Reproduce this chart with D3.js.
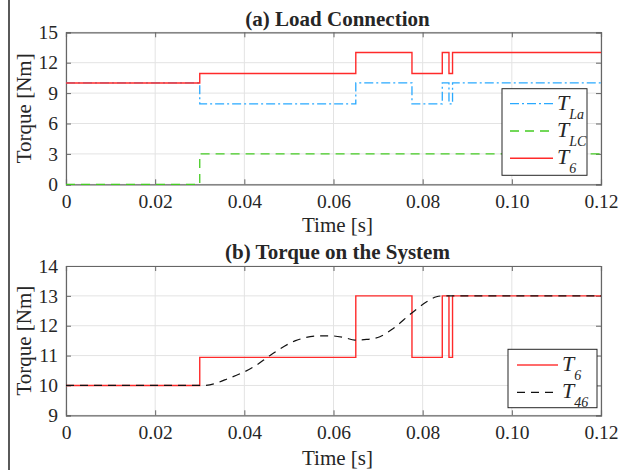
<!DOCTYPE html>
<html><head><meta charset="utf-8">
<script src="https://cdn.jsdelivr.net/npm/d3@7"></script>
<style>
body{margin:0;background:#fff;}
svg{display:block;}
text{font-family:"Liberation Serif","Times New Roman",serif;fill:#262626;}
</style></head>
<body>
<svg id="c" width="644" height="470"></svg>
<script>
// ---------- data ----------
const xTicks = [0, 0.02, 0.04, 0.06, 0.08, 0.10, 0.12];
const xTickLabels = ["0", "0.02", "0.04", "0.06", "0.08", "0.10", "0.12"];
const yTicksA = [0, 3, 6, 9, 12, 15];
const yTicksB = [9, 10, 11, 12, 13, 14];

// step series (value holds from time[i] until time[i+1])
const stepTimes = [0, 0.03, 0.065, 0.0776, 0.0844, 0.0859, 0.0867, 0.12];
const T6  = [10, 10.94, 13, 10.94, 13, 10.94, 13, 13];
const TLa = [10, 7.94, 10, 7.94, 10, 7.94, 10, 10];
const tlcTimes = [0, 0.03, 0.12];
const TLC = [0, 3, 3];

// smooth torque on system
const t46Times = [0, 0.031, 0.0367, 0.0423, 0.046, 0.0515, 0.057, 0.0595, 0.0625, 0.0648, 0.0674, 0.0704, 0.0734, 0.0775, 0.0809, 0.0831, 0.0846, 0.12];
const T46 = [10, 10, 10.25, 10.64, 11.03, 11.5, 11.66, 11.66, 11.6, 11.52, 11.54, 11.63, 11.91, 12.42, 12.8, 12.97, 13, 13];

// ---------- drawing ----------
const svg = d3.select("#c");
const X0 = 66, X1 = 601;
const FONT = '"Liberation Serif","Times New Roman",serif';
const red = "#ff2a2a", blue = "#29a9ff", green = "#44cc22";

svg.append("line").attr("x1", 9).attr("x2", 9).attr("y1", 0).attr("y2", 470)
  .attr("stroke", "#000").attr("stroke-width", 1.3);

function panel(top, bottom, yDomain, yTicks, title, titleY, labelY) {
  const x = d3.scaleLinear().domain([0, 0.12]).range([X0, X1]);
  const y = d3.scaleLinear().domain(yDomain).range([bottom, top]);
  const g = svg.append("g");
  // grid
  g.selectAll(".gx").data(xTicks).join("line")
    .attr("x1", d => x(d)).attr("x2", d => x(d)).attr("y1", top).attr("y2", bottom)
    .attr("stroke", "#e3e3e3").attr("stroke-width", 1);
  g.selectAll(".gy").data(yTicks).join("line")
    .attr("x1", X0).attr("x2", X1).attr("y1", d => y(d)).attr("y2", d => y(d))
    .attr("stroke", "#e3e3e3").attr("stroke-width", 1);
  // axes
  const ax = g.append("g").attr("transform", `translate(0,${bottom})`)
    .call(d3.axisBottom(x).tickValues(xTicks).tickFormat((d, i) => xTickLabels[i]).tickSize(-5).tickPadding(10));
  const axT = g.append("g").attr("transform", `translate(0,${top})`)
    .call(d3.axisTop(x).tickValues(xTicks).tickFormat("").tickSize(-5));
  const ay = g.append("g").attr("transform", `translate(${X0},0)`)
    .call(d3.axisLeft(y).tickValues(yTicks).tickFormat(d3.format("d")).tickSize(-5).tickPadding(8));
  const ayR = g.append("g").attr("transform", `translate(${X1},0)`)
    .call(d3.axisRight(y).tickValues(yTicks).tickFormat("").tickSize(-5));
  [ax, axT, ay, ayR].forEach(a => {
    a.attr("font-family", null);
    a.select(".domain").attr("stroke", "#666").attr("stroke-width", 1.2);
    a.selectAll(".tick line").attr("stroke", "#666");
    a.selectAll("text").style("font-family", FONT).style("font-size", "19.5px").style("fill", "#262626");
  });
  g.append("text").attr("x", (X0 + X1) / 2 + 4).attr("y", titleY).attr("text-anchor", "middle")
    .attr("font-weight", "bold").attr("font-size", 21).text(title);
  g.append("text").attr("x", (X0 + X1) / 2 + 4).attr("y", labelY).attr("text-anchor", "middle")
    .attr("font-size", 21).text("Time [s]");
  g.append("text").attr("transform", `translate(31,${(top + bottom) / 2}) rotate(-90)`)
    .attr("text-anchor", "middle").attr("font-size", 21).text("Torque [Nm]");
  return {x, y, g};
}

function legend(g, bx, by, bw, bh, items) {
  g.append("rect").attr("x", bx).attr("y", by).attr("width", bw).attr("height", bh)
    .attr("fill", "#fff").attr("stroke", "#262626").attr("stroke-width", 1);
  items.forEach(it => {
    g.append("line").attr("x1", it.lx0).attr("x2", it.lx1).attr("y1", it.y).attr("y2", it.y)
      .attr("stroke", it.color).attr("stroke-width", it.w).attr("stroke-dasharray", it.dash);
    const t = g.append("text").attr("x", it.tx).attr("y", it.y + 6).attr("font-style", "italic").attr("font-size", 22);
    t.append("tspan").text("T");
    t.append("tspan").attr("dy", 9).attr("font-size", 14).text(it.sub);
  });
}

// ---- panel (a)
const A = panel(32.3, 184.3, [0, 15], yTicksA, "(a) Load Connection", 26, 231.5);
const stepA = d3.line().curve(d3.curveStepAfter).x(d => A.x(d[0])).y(d => A.y(d[1]));
A.g.append("path").attr("d", stepA(d3.zip(stepTimes, TLa))).attr("fill", "none")
  .attr("stroke", blue).attr("stroke-width", 1.3).attr("stroke-dasharray", "9,3,2,3");
A.g.append("path").attr("d", stepA(d3.zip(tlcTimes, TLC))).attr("fill", "none")
  .attr("stroke", green).attr("stroke-width", 1.3).attr("stroke-dasharray", "9,6");
A.g.append("path").attr("d", stepA(d3.zip(stepTimes, T6))).attr("fill", "none")
  .attr("stroke", red).attr("stroke-width", 1.4);
legend(A.g, 502, 88.7, 85, 86.6, [
  {y: 103.7, lx0: 510, lx1: 553, tx: 557, color: blue, w: 1.3, dash: "9,3,2,3", sub: "La"},
  {y: 131, lx0: 510, lx1: 553, tx: 557, color: green, w: 1.3, dash: "9,6", sub: "LC"},
  {y: 158.3, lx0: 510, lx1: 553, tx: 557, color: red, w: 1.4, dash: null, sub: "6"}
]);

// ---- panel (b)
const B = panel(266, 415.3, [9, 14], yTicksB, "(b) Torque on the System", 259, 465);
const stepB = d3.line().curve(d3.curveStepAfter).x(d => B.x(d[0])).y(d => B.y(d[1]));
B.g.append("path").attr("d", stepB(d3.zip(stepTimes, T6))).attr("fill", "none")
  .attr("stroke", red).attr("stroke-width", 1.4);
const smooth = d3.line().curve(d3.curveMonotoneX).x(d => B.x(d[0])).y(d => B.y(d[1]));
B.g.append("path").attr("d", smooth(d3.zip(t46Times, T46))).attr("fill", "none")
  .attr("stroke", "#111").attr("stroke-width", 1.2).attr("stroke-dasharray", "8,6");
legend(B.g, 508, 349.3, 89, 58.4, [
  {y: 365, lx0: 517, lx1: 558, tx: 562, color: "#ff6b6b", w: 2, dash: null, sub: "6"},
  {y: 392.3, lx0: 517, lx1: 558, tx: 562, color: "#111", w: 1.2, dash: "8,6", sub: "46"}
]);
</script>
</body></html>
